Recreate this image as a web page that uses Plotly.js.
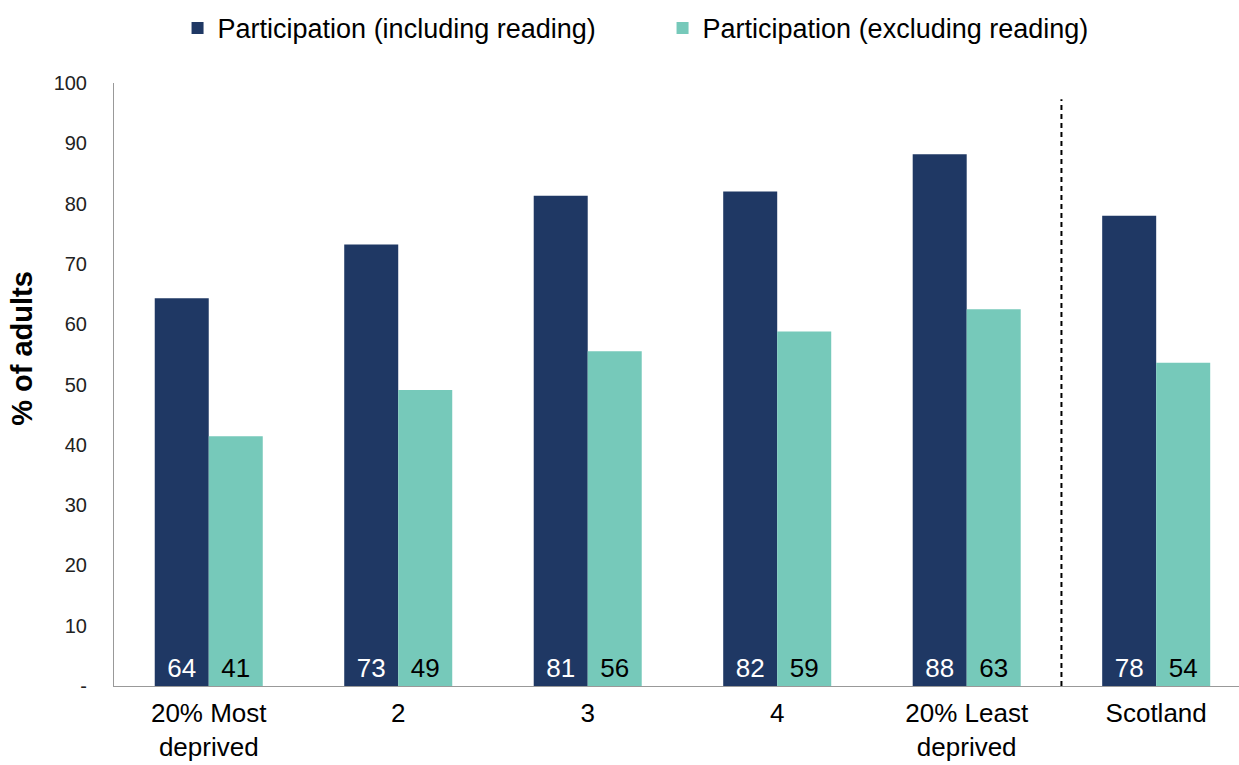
<!DOCTYPE html>
<html><head><meta charset="utf-8">
<script src="https://cdn.plot.ly/plotly-3.0.1.min.js"></script>
<style>body{margin:0;padding:0;background:#fff}#chart{width:1239px;height:765px}</style>
</head><body><div id="chart"></div>
<script>
const categories = ["20% Most<br>deprived", "2", "3", "4", "20% Least<br>deprived", "Scotland"];
const includingReading = [64.3, 73.2, 81.3, 82.0, 88.2, 78.0];
const excludingReading = [41.4, 49.1, 55.5, 58.8, 62.5, 53.6];
const yTickVals = [0, 10, 20, 30, 40, 50, 60, 70, 80, 90, 100];
const yTickText = ["-", "10", "20", "30", "40", "50", "60", "70", "80", "90", "100"];
const seriesNames = ["Participation (including reading)", "Participation (excluding reading)"];
const yTitle = "% of adults";

const font = "Liberation Sans, Arial, sans-serif";
const traces = [
  {type:"bar", name:seriesNames[0], x:categories, y:includingReading,
   marker:{color:"#1F3864"}, text:includingReading.map(v=>String(Math.round(v))),
   textposition:"inside", insidetextanchor:"start", textangle:0,
   insidetextfont:{color:"#ffffff", size:26, family:font}, hoverinfo:"none"},
  {type:"bar", name:seriesNames[1], x:categories, y:excludingReading,
   marker:{color:"#76C9BA"}, text:excludingReading.map(v=>String(Math.round(v))),
   textposition:"inside", insidetextanchor:"start", textangle:0,
   insidetextfont:{color:"#000000", size:26, family:font}, hoverinfo:"none"}
];
const layout = {
  width:1239, height:765,
  margin:{l:114, r:0, t:83, b:79},
  paper_bgcolor:"#fff", plot_bgcolor:"#fff",
  font:{family:font, color:"#000"},
  barmode:"group", bargap:0.43, bargroupgap:0,
  showlegend:true,
  legend:{orientation:"h", x:0.4876, xanchor:"center", y:0.995, yref:"container", yanchor:"top",
          font:{size:27, family:font}, traceorder:"normal", entrywidth:440, entrywidthmode:"pixels"},
  xaxis:{type:"category", range:[-0.5, 5.437], showline:true, linecolor:"#999", linewidth:1,
         showgrid:false, ticks:"", tickfont:{size:26, family:font, color:"#000"}, ticklabelstandoff:4, fixedrange:true},
  yaxis:{range:[0,100], tickvals:yTickVals, ticktext:yTickText, showline:true, linecolor:"#999", linewidth:1,
         showgrid:false, zeroline:false, ticks:"", tickfont:{size:20, family:font, color:"#222"}, ticklabelstandoff:22},
  annotations:[{text:"<b>"+yTitle+"</b>", xref:"paper", yref:"paper", x:-0.0813, y:0.56, xanchor:"center", yanchor:"middle",
                textangle:-90, showarrow:false, font:{size:29, family:font, color:"#000"}}],
  shapes:[{type:"line", xref:"x", yref:"y", x0:4.5, x1:4.5, y0:0, y1:97.3,
           line:{color:"#000", width:2, dash:"5px,4px"}}]
};
Plotly.newPlot("chart", traces, layout, {displayModeBar:false, staticPlot:true});
</script></body></html>
